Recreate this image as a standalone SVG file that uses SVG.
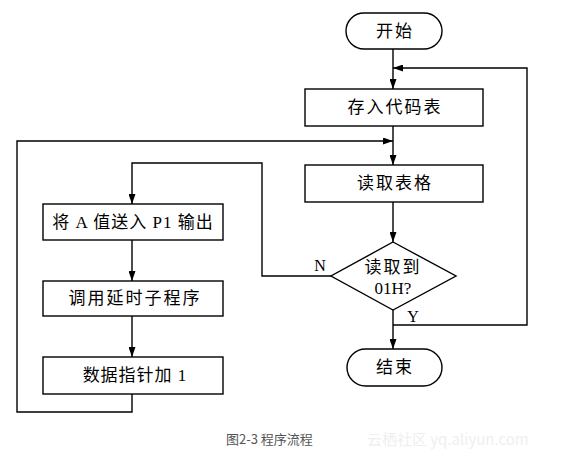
<svg xmlns="http://www.w3.org/2000/svg" width="561" height="459" viewBox="0 0 561 459">
<defs>
<marker id="arr" viewBox="0 0 10 7" refX="10" refY="3.5" markerWidth="10" markerHeight="7" markerUnits="userSpaceOnUse" orient="auto">
<path d="M0,0 L10,3.5 L0,7 z" fill="#000"/>
</marker>
</defs>
<style>
.box{fill:#fff;stroke:#000;stroke-width:1.4}
.ln{fill:none;stroke:#000;stroke-width:1.4}
.ar{fill:none;stroke:#000;stroke-width:1.4;marker-end:url(#arr)}
.t{font-family:"Liberation Serif","Noto Sans CJK SC",serif;font-size:17px;fill:#000;text-anchor:middle;dominant-baseline:central;letter-spacing:2px}
.lab{font-family:"Liberation Serif",serif;font-size:16px;fill:#000;text-anchor:middle;dominant-baseline:central}
.cap{font-family:"Noto Sans CJK SC","Liberation Sans",sans-serif;font-size:13px;fill:#555;dominant-baseline:central}
.wm{font-family:"Noto Sans CJK SC","Liberation Sans",sans-serif;font-size:15px;fill:#efefef;dominant-baseline:central}
</style>
<rect width="561" height="459" fill="#fff"/>
<g id="connectors">
<path class="ar" d="M393,49 V89"/>
<path class="ar" d="M393,126 V165"/>
<path class="ar" d="M393,202 V242"/>
<path class="ar" d="M393,310 V349"/>
<path class="ar" d="M393,325 H527 V68 H393"/>
<path class="ar" d="M331,276 H262 V163 H132 V204"/>
<path class="ar" d="M132,240 V281"/>
<path class="ar" d="M132,316 V357"/>
<path class="ar" d="M132,394 V412 H17 V141 H393"/>
</g>
<g id="start">
<rect class="box" x="346" y="13" width="96" height="36" rx="18" ry="18"/>
<text class="t" x="395" y="31">开始</text>
</g>
<g id="store">
<rect class="box" x="305" y="89" width="178" height="37"/>
<text class="t" x="395" y="107.5">存入代码表</text>
</g>
<g id="read">
<rect class="box" x="305" y="165" width="178" height="37"/>
<text class="t" x="395" y="183.5">读取表格</text>
</g>
<g id="decision">
<polygon class="box" points="393,242 456,276 393,310 331,276"/>
<text class="t" x="393" y="267">读取到</text>
<text class="t" x="393" y="288" style="letter-spacing:0">01H?</text>
</g>
<g id="end">
<rect class="box" x="347" y="349" width="95" height="37" rx="18.5" ry="18.5"/>
<text class="t" x="395" y="367.5">结束</text>
</g>
<g id="output">
<rect class="box" x="43" y="204" width="180" height="36"/>
<text class="t" x="133" y="222" style="letter-spacing:1px">将 A 值送入 P1 输出</text>
</g>
<g id="delay">
<rect class="box" x="43" y="281" width="180" height="35"/>
<text class="t" x="135" y="298.5">调用延时子程序</text>
</g>
<g id="inc">
<rect class="box" x="43" y="357" width="180" height="37"/>
<text class="t" x="135" y="375.5" style="letter-spacing:1px">数据指针加 1</text>
</g>
<text class="lab" x="320" y="265">N</text>
<text class="lab" x="413" y="316">Y</text>
<text class="cap" x="226" y="438">图2-3 程序流程</text>
<text class="wm" x="367" y="438">云栖社区 yq.aliyun.com</text>
</svg>
